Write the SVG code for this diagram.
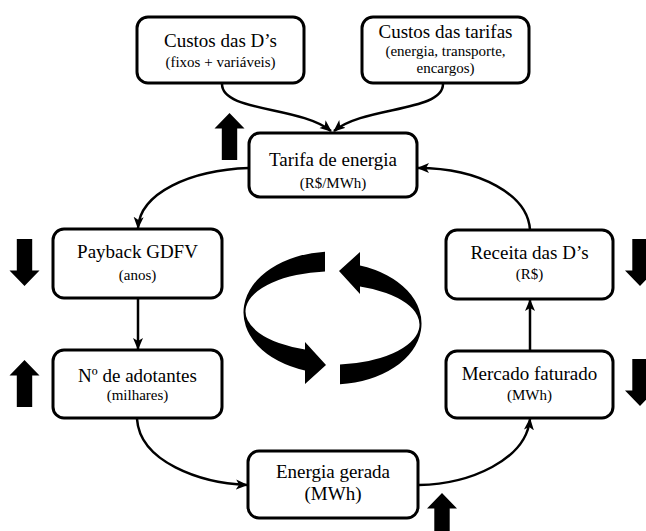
<svg xmlns="http://www.w3.org/2000/svg" width="646" height="531" viewBox="0 0 646 531">
<style>
.box{fill:#fff;stroke:#000;stroke-width:3}
text{font-family:'Liberation Serif',Tinos,'Times New Roman',Times,'DejaVu Serif',serif;fill:#000;text-anchor:middle}
.t{font-size:19px}
.s{font-size:15px}
.c{fill:none;stroke:#000;stroke-width:2.5}
.blk{fill:#000}
</style>
<defs>
<marker id="ah" markerUnits="userSpaceOnUse" markerWidth="12" markerHeight="12" viewBox="0 0 12 12" refX="11" refY="6" orient="auto">
<path d="M0,1 L12,6 L0,11 L3,6 Z" fill="#000"/>
</marker>
<path id="up" d="M0,0 L15,15.5 L7.7,15.5 L7.7,47 L-7.7,47 L-7.7,15.5 L-15,15.5 Z"/>
<path id="ring" d="M325,251.7 A89,61 0 0 0 305,370.5 L305,384 L326,365 L305,342 L305,349.4 A87,40 0 0 1 325,271.6 Z"/>
</defs>
<g id="connectors">
<path class="c" d="M222,84 C222,112 300,106 331,131" marker-end="url(#ah)"/>
<path class="c" d="M443,84 C443,112 364,106 334,131" marker-end="url(#ah)"/>
<path class="c" d="M249,168 C190,170 140,193 138,228" marker-end="url(#ah)"/>
<path class="c" d="M530,230 C528,195 480,168 418,168" marker-end="url(#ah)"/>
<path class="c" d="M138,299 L138,349" marker-end="url(#ah)"/>
<path class="c" d="M530,350 L530,300" marker-end="url(#ah)"/>
<path class="c" d="M137,419 C140,462 200,483 247,485" marker-end="url(#ah)"/>
<path class="c" d="M419,485 C470,484 526,460 530,419" marker-end="url(#ah)"/>
</g>
<g id="node-custos-ds">
<rect class="box" x="137" y="17" width="167" height="66" rx="11"/>
<text class="t" x="220.5" y="47" font-family="Liberation Serif">Custos das D’s</text>
<text class="s" x="220.5" y="67">(fixos + variáveis)</text>
</g>
<g id="node-custos-tarifas">
<rect class="box" x="362" y="17" width="167" height="66" rx="11"/>
<text class="t" x="445.5" y="38">Custos das tarifas</text>
<text class="s" x="445.5" y="56">(energia, transporte,</text>
<text class="s" x="445.5" y="73">encargos)</text>
</g>
<g id="node-tarifa">
<rect class="box" x="249" y="133" width="168" height="64" rx="11"/>
<text class="t" x="333" y="166">Tarifa de energia</text>
<text class="s" x="333" y="188">(R$/MWh)</text>
</g>
<g id="node-payback">
<rect class="box" x="53" y="229" width="169" height="69" rx="11"/>
<text class="t" x="137.5" y="258">Payback GDFV</text>
<text class="s" x="137.5" y="280">(anos)</text>
</g>
<g id="node-adotantes">
<rect class="box" x="53" y="350" width="169" height="68" rx="11"/>
<text class="t" x="137.5" y="382">Nº de adotantes</text>
<text class="s" x="137.5" y="400">(milhares)</text>
</g>
<g id="node-receita">
<rect class="box" x="446" y="230" width="167" height="69" rx="11"/>
<text class="t" x="529.5" y="259">Receita das D’s</text>
<text class="s" x="529.5" y="279">(R$)</text>
</g>
<g id="node-mercado">
<rect class="box" x="446" y="351" width="167" height="67" rx="11"/>
<text class="t" x="529.5" y="380">Mercado faturado</text>
<text class="s" x="529.5" y="400">(MWh)</text>
</g>
<g id="node-energia">
<rect class="box" x="248" y="451" width="170" height="67" rx="11"/>
<text class="t" x="333" y="478">Energia gerada</text>
<text class="t" x="333" y="500">(MWh)</text>
</g>
<g id="trend-arrows" class="blk">
<use href="#up" transform="translate(229.5,113)"/>
<use href="#up" transform="translate(24.5,286) rotate(180)"/>
<use href="#up" transform="translate(24.5,360)"/>
<use href="#up" transform="translate(640,286) rotate(180)"/>
<use href="#up" transform="translate(640,406) rotate(180)"/>
<use href="#up" transform="translate(442,493)"/>
</g>
<g id="cycle" class="blk">
<use href="#ring"/>
<use href="#ring" transform="rotate(180 332.5 318)"/>
</g>
</svg>
